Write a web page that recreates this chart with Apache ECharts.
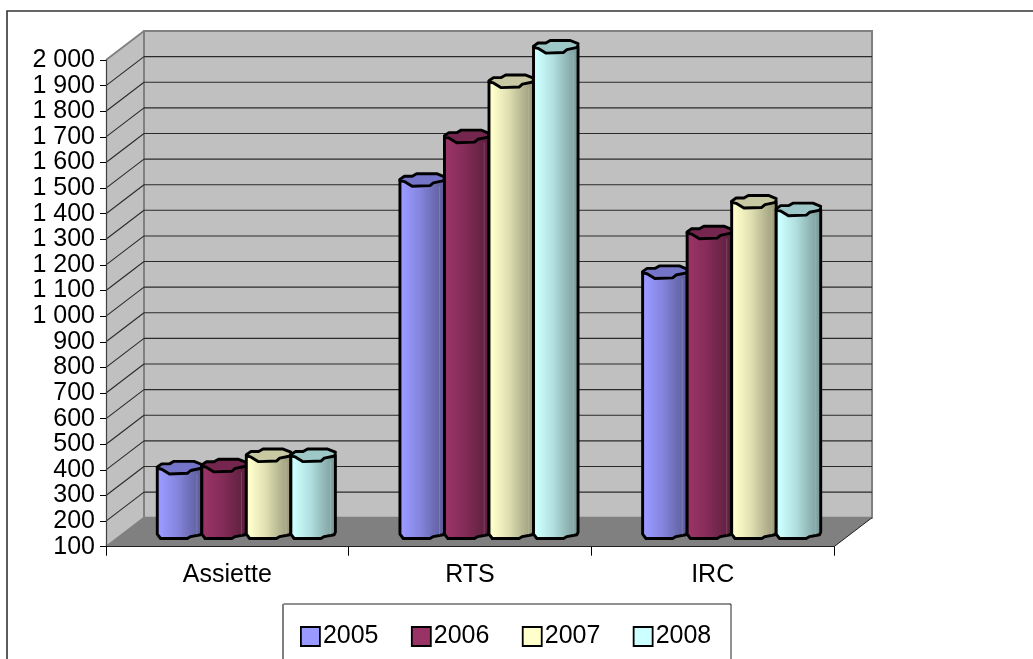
<!DOCTYPE html>
<html>
<head>
<meta charset="utf-8">
<style>
  html, body { margin: 0; padding: 0; background: #fff; overflow: hidden; }
  #chart { width: 1033px; height: 659px; }
</style>
<script src="https://cdn.jsdelivr.net/npm/echarts@6/dist/echarts.min.js"></script>
</head>
<body>
<div id="chart"></div>
<script>
// Chart data
const categories = ['Assiette', 'RTS', 'IRC'];
const years = ['2005', '2006', '2007', '2008'];
const values2005 = [352, 1475, 1115];
const values2006 = [360, 1645, 1270];
const values2007 = [400, 1860, 1390];
const values2008 = [400, 1995, 1360];
const yTicks = [100, 200, 300, 400, 500, 600, 700, 800, 900, 1000, 1100, 1200, 1300, 1400, 1500, 1600, 1700, 1800, 1900, 2000];
const yTickLabels = ['100', '200', '300', '400', '500', '600', '700', '800', '900', '1 000', '1 100', '1 200', '1 300', '1 400', '1 500', '1 600', '1 700', '1 800', '1 900', '2 000'];

// Oblique projection of the chart box
const DEPTH_X = 38;
const DEPTH_Y = 29;
const BAR_W = 0.1835;
const RY = 6.3;

const barColors = [
  { base: [153, 153, 255], top: '#7474c8' },
  { base: [153, 51, 102],  top: '#74264f' },
  { base: [255, 255, 204], top: '#c8c8a2' },
  { base: [204, 255, 255], top: '#9ec8c8' }
];

// Cross-section outline of a column, in unit coordinates
const topOutline = [[-1, -0.1], [-0.8, -0.6], [-0.45, -0.6], [-0.25, -1], [0.65, -1], [1, -0.5], [0.97, 0.1],
  [0.5, 0.45], [0.35, 0.9], [-0.45, 1], [-0.8, 0.25], [-1, 0.1]];
const bottomOutline = [[-1, 0.3], [-0.85, 1], [0.35, 1], [0.5, 0.7], [0.95, 0.4], [1, 0]];

function shade(rgb, k) {
  return 'rgb(' + rgb.map(c => Math.round(c * k)).join(',') + ')';
}

function renderColumn(seriesIdx) {
  return function (params, api) {
    const cat = api.value(0);
    const tip = api.coord([cat, api.value(1)]);
    const foot = api.coord([cat, yTicks[0]]);
    const band = api.size([1, 0])[0];
    const w = band * BAR_W;
    const rx = w / 2;
    const cx = tip[0] + DEPTH_X / 2 + (seriesIdx - 1.5) * w;
    const cyTop = tip[1] - DEPTH_Y / 2;
    const cyBot = foot[1] - DEPTH_Y / 2;
    const col = barColors[seriesIdx];
    const toTop = p => [cx + p[0] * rx, cyTop + p[1] * RY];
    const toBot = p => [cx + p[0] * rx, cyBot + p[1] * RY];
    const body = [[cx - rx, cyTop]].concat(bottomOutline.map(toBot), [[cx + rx, cyTop]]);
    const fill = {
      type: 'linear', x: 0, y: 0, x2: 1, y2: 0,
      colorStops: [
        { offset: 0, color: shade(col.base, 0.95) },
        { offset: 0.1, color: shade(col.base, 1) },
        { offset: 0.45, color: shade(col.base, 0.87) },
        { offset: 0.72, color: shade(col.base, 0.72) },
        { offset: 1, color: shade(col.base, 0.58) }
      ]
    };
    const stroke = { stroke: '#000', lineWidth: 2.9, lineJoin: 'round' };
    return {
      type: 'group',
      children: [
        { type: 'polygon', shape: { points: body }, style: Object.assign({ fill: fill }, stroke) },
        { type: 'line', shape: { x1: cx + rx * 0.78, y1: cyTop + RY, x2: cx + rx * 0.78, y2: cyBot + RY * 0.5 },
          style: { stroke: 'rgba(255,255,255,0.16)', lineWidth: 1 } },
        { type: 'polygon', shape: { points: topOutline.map(toTop) }, style: Object.assign({ fill: col.top }, stroke) }
      ]
    };
  };
}

// Back wall, side wall and floor of the box
function renderWalls(params, api) {
  const g = params.coordSys;
  const x0 = g.x, x1 = g.x + g.width, y0 = g.y, y1 = g.y + g.height;
  const wallEdge = { stroke: '#808080', lineWidth: 1.8 };
  return {
    type: 'group',
    children: [
      { type: 'polygon', shape: { points: [[x0, y1], [x0 + DEPTH_X, y1 - DEPTH_Y], [x1 + DEPTH_X, y1 - DEPTH_Y], [x1, y1]] },
        style: { fill: '#808080' } },
      { type: 'polygon', shape: { points: [[x0, y0], [x0 + DEPTH_X, y0 - DEPTH_Y], [x0 + DEPTH_X, y1 - DEPTH_Y], [x0, y1]] },
        style: { fill: '#c0c0c0' } },
      { type: 'rect', shape: { x: x0 + DEPTH_X, y: y0 - DEPTH_Y, width: g.width, height: g.height },
        style: { fill: '#c0c0c0', stroke: '#808080', lineWidth: 2 } },
      { type: 'line', shape: { x1: x0, y1: y0, x2: x0 + DEPTH_X, y2: y0 - DEPTH_Y }, style: wallEdge },
      { type: 'line', shape: { x1: x0, y1: y1, x2: x0 + DEPTH_X, y2: y1 - DEPTH_Y }, style: wallEdge },
      { type: 'line', shape: { x1: x1, y1: y1, x2: x1 + DEPTH_X, y2: y1 - DEPTH_Y }, style: { stroke: '#222', lineWidth: 1 } }
    ]
  };
}

// One grid line per tick, across the side wall and the back wall
function renderGridLine(params, api) {
  const v = api.value(1);
  if (v === yTicks[0] || v === yTicks[yTicks.length - 1]) return null;
  const p = api.coord([0, v]);
  const g = params.coordSys;
  const line = { stroke: '#2a2a2a', lineWidth: 1.1 };
  return {
    type: 'group',
    children: [
      { type: 'line', shape: { x1: g.x, y1: p[1], x2: g.x + DEPTH_X, y2: p[1] - DEPTH_Y }, style: line },
      { type: 'line', shape: { x1: g.x + DEPTH_X, y1: p[1] - DEPTH_Y, x2: g.x + g.width + DEPTH_X, y2: p[1] - DEPTH_Y }, style: line }
    ]
  };
}

const font = { fontFamily: '"Liberation Sans", Arial, sans-serif', fontSize: 25, color: '#000' };

const seriesValues = [values2005, values2006, values2007, values2008];

const chart = echarts.init(document.getElementById('chart'), null, { renderer: 'canvas' });
chart.setOption({
  animation: false,
  backgroundColor: '#fff',
  grid: { left: 106, width: 728, top: 60, height: 486.7 },
  xAxis: {
    type: 'category',
    data: categories,
    axisLine: { lineStyle: { color: '#222', width: 1.2 } },
    axisTick: { show: true, length: 9, lineStyle: { color: '#000', width: 1 } },
    axisLabel: Object.assign({ margin: 16 }, font),
    splitLine: { show: false },
    z: 3
  },
  yAxis: {
    type: 'value',
    min: 100,
    max: 2000,
    interval: 100,
    axisLine: { show: true, lineStyle: { color: '#404040', width: 1.2 } },
    axisTick: { show: true, length: 6, lineStyle: { color: '#000', width: 1 } },
    axisLabel: Object.assign({
      margin: 11,
      formatter: v => yTickLabels[yTicks.indexOf(v)]
    }, font),
    splitLine: { show: false },
    z: 3
  },
  legend: {
    data: years,
    left: 300,
    top: 624,
    padding: 0,
    orient: 'horizontal',
    icon: 'rect',
    itemWidth: 19,
    itemHeight: 19,
    itemGap: 32.4,
    itemStyle: { borderColor: '#000', borderWidth: 1.8 },
    textStyle: Object.assign({ padding: [0, 0, 2, -2] }, font)
  },
  graphic: [
    { type: 'rect', z: -1, shape: { x: 7, y: 11, width: 2000, height: 2000 },
      style: { fill: 'none', stroke: '#333', lineWidth: 1.6 } },
    { type: 'rect', z: -1, shape: { x: 283.5, y: 604, width: 447.5, height: 200 },
      style: { fill: '#fff', stroke: '#222', lineWidth: 1 } },
    { type: 'line', z: -1, shape: { x1: 283, y1: 604, x2: 283, y2: 659 },
      style: { stroke: '#808080', lineWidth: 2 } }
  ],
  series: [
    { type: 'custom', name: 'walls', coordinateSystem: 'cartesian2d', z: 0, silent: true, clip: false,
      data: [[0, 100]], encode: { x: 0, y: 1 }, renderItem: renderWalls },
    { type: 'custom', name: 'grid', coordinateSystem: 'cartesian2d', z: 1, silent: true, clip: false,
      data: yTicks.map(t => [0, t]), encode: { x: 0, y: 1 }, renderItem: renderGridLine }
  ].concat(years.map((year, i) => ({
    type: 'custom',
    name: year,
    coordinateSystem: 'cartesian2d',
    z: 4,
    clip: false,
    silent: true,
    itemStyle: { color: shade(barColors[i].base, 1) },
    data: seriesValues[i].map((v, c) => [c, v]),
    encode: { x: 0, y: 1 },
    renderItem: renderColumn(i)
  })))
});
</script>
</body>
</html>
